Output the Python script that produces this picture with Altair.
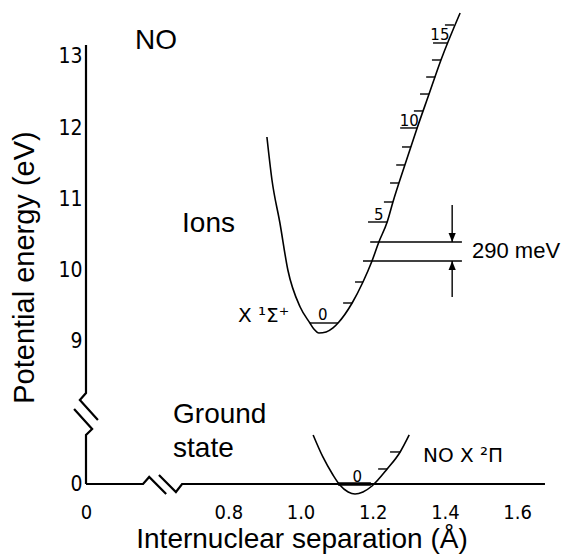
import altair as alt
import pandas as pd

# ---------------- data (display units: r in Å, energy in eV) ----------------
GROUND_SHIFT = 7.0   # broken energy axis: ground-state 0 eV is drawn at 7.0

x_tick_values = [0.406, 0.8, 1.0, 1.2, 1.4, 1.6]
x_tick_labels = ["0", "0.8", "1.0", "1.2", "1.4", "1.6"]
y_tick_values = [7.0, 9, 10, 11, 12, 13]
y_tick_labels = ["0", "9", "10", "11", "12", "13"]

# NO+ X 1Σ+ ion potential curve
ion_r = [0.907, 0.921, 0.943, 0.965, 0.999, 1.026, 1.037, 1.051, 1.071, 1.090, 1.104,
         1.143, 1.173, 1.198, 1.217, 1.240, 1.256, 1.289, 1.323, 1.356, 1.389, 1.442]
ion_E = [11.875, 11.271, 10.667, 10.007, 9.487, 9.262, 9.178, 9.122, 9.136, 9.192, 9.262,
         9.543, 9.838, 10.133, 10.400, 10.681, 10.962, 11.482, 12.002, 12.479, 12.957, 13.617]

# NO X 2Π ground-state curve (real energy, eV)
ground_r = [1.035, 1.062, 1.090, 1.109, 1.132, 1.151, 1.173, 1.198, 1.240, 1.276, 1.301]
ground_E = [0.689, 0.380, 0.127, -0.014, -0.112, -0.140, -0.112, -0.028, 0.211, 0.450, 0.689]

# ion vibrational levels v = 0..16
ion_level_v = list(range(17))
ion_level_E = [9.262, 9.543, 9.838, 10.133, 10.400, 10.681, 10.962, 11.229, 11.482, 11.735,
               12.002, 12.241, 12.479, 12.718, 12.957, 13.196, 13.449]
ion_level_r_start = [1.026, 1.118, 1.151, 1.173, 1.193, 1.187, 1.231, 1.248, 1.265, 1.281,
                     1.276, 1.314, 1.331, 1.348, 1.364, 1.367, 1.400]
ion_level_r_end = [1.104, 1.143, 1.173, 1.447, 1.447, 1.240, 1.256, 1.273, 1.289, 1.306,
                   1.323, 1.339, 1.356, 1.373, 1.389, 1.406, 1.425]

# ground vibrational levels v = 0..2 (real energy)
ground_level_E = [0.0, 0.211, 0.450]
ground_level_r_start = [1.104, 1.215, 1.248]
ground_level_r_end = [1.195, 1.240, 1.276]

# 290 meV gap arrows
arrow_r = 1.420
arrow_down_E = [10.920, 10.400]
arrow_up_E = [9.627, 10.133]

# labels
big_text = ["NO", "Ions", "Ground", "state"]
big_r = [0.542, 0.672, 0.647, 0.647]
big_E = [13.112, 10.541, 7.857, 7.380]
gap_text = ["290 meV"]
gap_r = [1.475]
gap_E = [10.175]
state_text = ["X \u00b9\u03a3\u207a", "NO X \u00b2\u03a0"]
state_r = [0.827, 1.339]
state_E = [9.276, 7.309]
vib_text = ["0", "5", "10", "15", "0"]
vib_r = [1.062, 1.217, 1.301, 1.386, 1.157]
vib_E = [9.304, 10.709, 12.030, 13.238, 7.028]

# broken axis lines (display units)
axis_group = ["yu"] * 4 + ["yl"] * 4 + ["xl"] * 4 + ["xr"] * 4
axis_r = [0.406, 0.406, 0.389, 0.439,
          0.373, 0.423, 0.406, 0.406,
          0.406, 0.564, 0.581, 0.628,
          0.608, 0.655, 0.672, 1.677]
axis_E = [13.168, 8.279, 8.180, 7.900,
          8.054, 7.773, 7.689, 7.0,
          7.0, 7.0, 7.099, 6.860,
          7.127, 6.888, 7.0, 7.0]

# ---------------- tables ----------------
curves = pd.concat([
    pd.DataFrame({"curve": "ion", "i": range(len(ion_r)), "r": ion_r, "E": ion_E}),
    pd.DataFrame({"curve": "ground", "i": range(len(ground_r)), "r": ground_r,
                  "E": [e + GROUND_SHIFT for e in ground_E]}),
])
levels = pd.DataFrame({"r": ion_level_r_start[:] + ground_level_r_start[1:],
                       "r2": ion_level_r_end[:] + ground_level_r_end[1:],
                       "E": ion_level_E[:] + [e + GROUND_SHIFT for e in ground_level_E[1:]]})
ground_v0 = pd.DataFrame({"r": [ground_level_r_start[0]], "r2": [ground_level_r_end[0]],
                          "E": [ground_level_E[0] + GROUND_SHIFT]})
arrows = pd.DataFrame({"r": [arrow_r, arrow_r], "E": [arrow_down_E[0], arrow_up_E[0]],
                       "E2": [arrow_down_E[1], arrow_up_E[1]]})
head_down = pd.DataFrame({"r": [arrow_r], "E": [arrow_down_E[1]]})
head_up = pd.DataFrame({"r": [arrow_r], "E": [arrow_up_E[1]]})
axis_df = pd.DataFrame({"g": axis_group, "i": list(range(len(axis_r))), "r": axis_r, "E": axis_E})
big_df = pd.DataFrame({"t": big_text, "r": big_r, "E": big_E})
gap_df = pd.DataFrame({"t": gap_text, "r": gap_r, "E": gap_E})
state_df = pd.DataFrame({"t": state_text, "r": state_r, "E": state_E})
vib_df = pd.DataFrame({"t": vib_text, "r": vib_r, "E": vib_E})


def label_expr(values, labels):
    expr = "''"
    for v, l in reversed(list(zip(values, labels))):
        expr = f"abs(datum.value - {v}) < 1e-6 ? '{l}' : {expr}"
    return expr


TICK_FONT = "Liberation Sans Narrow, DejaVu Sans Condensed, sans-serif"
SANS = "Liberation Sans, Arial, sans-serif"

xscale = alt.Scale(domain=[0.406, 1.738], zero=False, nice=False)
yscale = alt.Scale(domain=[7.0, 13.8], zero=False, nice=False)

xaxis = alt.Axis(values=x_tick_values, labelExpr=label_expr(x_tick_values, x_tick_labels),
                 domain=False, ticks=False, tickSize=0, grid=False,
                 labelFont=TICK_FONT, labelFontSize=20, labelPadding=18,
                 labelOverlap=False, labelFlush=False, labelColor="black",
                 title="Internuclear separation (Å)", titleFont=SANS, titleFontSize=28,
                 titleFontWeight="normal", titleColor="black", titleX=215.5, titleY=63,
                 titleBaseline="alphabetic", titleAlign="center")
yaxis = alt.Axis(values=y_tick_values, labelExpr=label_expr(y_tick_values, y_tick_labels),
                 domain=False, ticks=False, tickSize=0, grid=False,
                 labelFont=TICK_FONT, labelFontSize=21, labelPadding=4,
                 labelOverlap=False, labelFlush=False, labelColor="black",
                 title="Potential energy (eV)", titleFont=SANS, titleFontSize=29,
                 titleFontWeight="normal", titleColor="black", titleX=-52.5, titleY=267,
                 titleAngle=270, titleBaseline="alphabetic", titleAlign="center")

X = alt.X("r:Q", scale=xscale, axis=xaxis)
Y = alt.Y("E:Q", scale=yscale, axis=yaxis)

curve_layer = alt.Chart(curves).mark_line(color="black", strokeWidth=1.6, interpolate="monotone").encode(
    x=X, y=Y, detail="curve:N", order="i:Q")
level_layer = alt.Chart(levels).mark_rule(color="black", strokeWidth=1.4).encode(
    x=X, x2="r2:Q", y=Y)
v0_layer = alt.Chart(ground_v0).mark_rule(color="black", strokeWidth=3.5).encode(
    x=X, x2="r2:Q", y=Y)
arrow_layer = alt.Chart(arrows).mark_rule(color="black", strokeWidth=1.4).encode(
    x=X, y=Y, y2="E2:Q")
head_down_layer = alt.Chart(head_down).mark_point(
    shape="M0,0L-0.4,-1L0.4,-1Z", filled=True, size=324, color="black", opacity=1).encode(x=X, y=Y)
head_up_layer = alt.Chart(head_up).mark_point(
    shape="M0,0L-0.4,1L0.4,1Z", filled=True, size=324, color="black", opacity=1).encode(x=X, y=Y)
axis_layer = alt.Chart(axis_df).mark_line(color="black", strokeWidth=2.2).encode(
    x=X, y=Y, detail="g:N", order="i:Q")
big_layer = alt.Chart(big_df).mark_text(font=SANS, fontSize=28, align="left",
                                        baseline="alphabetic", color="black").encode(x=X, y=Y, text="t:N")
gap_layer = alt.Chart(gap_df).mark_text(font=SANS, fontSize=22, align="left",
                                        baseline="alphabetic", color="black").encode(x=X, y=Y, text="t:N")
state_layer = alt.Chart(state_df).mark_text(font="DejaVu Sans", fontSize=20, align="left",
                                            baseline="alphabetic", color="black").encode(x=X, y=Y, text="t:N")
vib_layer = alt.Chart(vib_df).mark_text(font="DejaVu Sans", fontSize=15, align="center",
                                        baseline="alphabetic", color="black").encode(x=X, y=Y, text="t:N")

chart = alt.layer(
    axis_layer, curve_layer, level_layer, v0_layer, arrow_layer, head_down_layer, head_up_layer,
    big_layer, gap_layer, state_layer, vib_layer
).properties(
    width=481, height=484,
    autosize=alt.AutoSizeParams(type="none"),
    padding={"left": 86, "top": 0, "right": 0, "bottom": 71},
    background="white",
).configure_view(stroke=None)

chart.save("out.html", embed_options={"renderer": "svg", "actions": False})
